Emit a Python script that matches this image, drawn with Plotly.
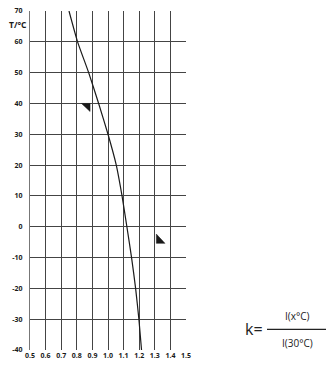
import plotly.graph_objects as go

# temperature (°C) and ratio k = I(x°C)/I(30°C)
temps = [70, 60, 50, 40, 30, 20, 10, 0, -10, -20, -30, -40]
k_vals = [0.75, 0.805, 0.876, 0.94, 1.0, 1.053, 1.09, 1.121, 1.151, 1.177, 1.198, 1.215]

x_ticks = [0.5, 0.6, 0.7, 0.8, 0.9, 1.0, 1.1, 1.2, 1.3, 1.4, 1.5]
x_tick_labels = ["0.5", "0.6", "0.7", "0.8", "0.9", "1.0", "1.1", "1.2", "1.3", "1.4", "1.5"]
y_ticks = [70, 60, 50, 40, 30, 20, 10, 0, -10, -20, -30, -40]
y_tick_labels = ["70", "60", "50", "40", "30", "20", "10", "0", "-10", "-20", "-30", "-40"]

# small filled triangle markers
tri1_x = [0.83, 0.885, 0.885, 0.83]
tri1_y = [40, 40, 37.4, 40]
tri2_x = [1.31, 1.31, 1.365, 1.31]
tri2_y = [-2.4, -5.4, -5.4, -2.4]

W, H = 327, 367
l, r, t, b = 30, 141, 6, 17

fig = go.Figure()
fig.add_trace(go.Scatter(x=k_vals, y=temps, mode="lines",
                         line=dict(color="#1a1a1a", width=1.2, shape="spline", smoothing=0.5),
                         hoverinfo="skip", showlegend=False))
for tx, ty in [(tri1_x, tri1_y), (tri2_x, tri2_y)]:
    fig.add_trace(go.Scatter(x=tx, y=ty, mode="lines", fill="toself",
                             fillcolor="#1a1a1a", line=dict(color="#1a1a1a", width=0.5),
                             hoverinfo="skip", showlegend=False))

font = dict(family="Open Sans", size=7, color="#1a1a1a", weight="bold")
fig.update_layout(
    width=W, height=H,
    margin=dict(l=l, r=r, t=t, b=b),
    paper_bgcolor="white", plot_bgcolor="white",
    xaxis=dict(range=[0.5, 1.5], tickvals=x_ticks, ticktext=x_tick_labels,
               showgrid=True, gridcolor="#444", gridwidth=1.2, zeroline=False,
               showline=False, ticks="", tickfont=font, fixedrange=True),
    yaxis=dict(range=[-40, 70], tickvals=y_ticks, ticktext=y_tick_labels,
               showgrid=True, gridcolor="#444", gridwidth=1.2, zeroline=False,
               showline=True, linecolor="#777", linewidth=1.2, mirror=False,
               ticks="", tickfont=font, ticklabelstandoff=5, fixedrange=True),
    showlegend=False,
)

pw, ph = W - l - r, H - t - b
def px(xp):
    return (xp - l) / pw
def py(yp):
    return (H - b - yp) / ph

fig.add_annotation(text="<b>T/°C</b>", xref="paper", yref="paper", x=px(18), y=py(20),
                   xanchor="center", yanchor="middle", showarrow=False,
                   font=dict(family="Open Sans", size=8.5, color="#1a1a1a"))

# formula k = I(x°C) / I(30°C)
fig.add_annotation(text="k=", xref="paper", yref="paper", x=px(254), y=py(329),
                   xanchor="center", yanchor="middle", showarrow=False,
                   font=dict(family="Open Sans", size=16, color="#222"))
fig.add_annotation(text="I(x°C)", xref="paper", yref="paper", x=px(297), y=py(315),
                   xanchor="center", yanchor="middle", showarrow=False,
                   font=dict(family="Open Sans", size=10, color="#222"))
fig.add_annotation(text="I(30°C)", xref="paper", yref="paper", x=px(297), y=py(343),
                   xanchor="center", yanchor="middle", showarrow=False,
                   font=dict(family="Open Sans", size=10, color="#222"))
fig.add_shape(type="line", xref="paper", yref="paper", x0=px(267), x1=px(326),
              y0=py(329), y1=py(329), line=dict(color="#222", width=1.2))

fig.write_html("out.html")
